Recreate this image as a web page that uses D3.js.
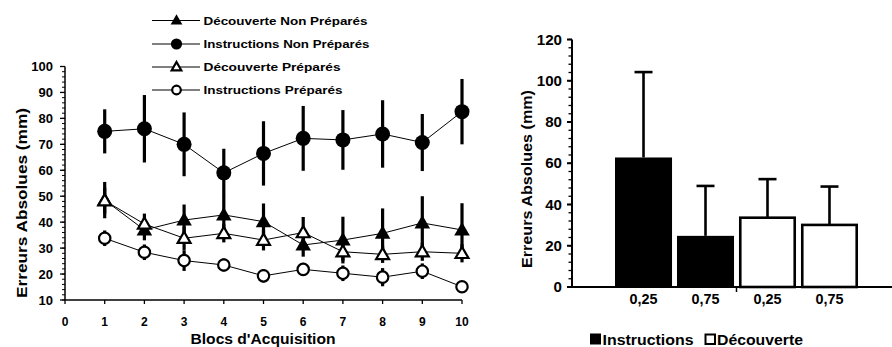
<!DOCTYPE html>
<html>
<head>
<meta charset="utf-8">
<script src="https://cdn.jsdelivr.net/npm/d3@7"></script>
<style>
  html, body { margin: 0; padding: 0; background: #fff; }
  svg { display: block; }
  text { font-family: Arial, "Liberation Sans", sans-serif; font-weight: bold; fill: #000; }
</style>
</head>
<body>
<svg id="chart" width="892" height="347"></svg>
<script>
// ---------- DATA (left chart) ----------
const blocks = [1, 2, 3, 4, 5, 6, 7, 8, 9, 10];
const xTickValues = [0, 1, 2, 3, 4, 5, 6, 7, 8, 9, 10];
const yTickValuesLeft = [10, 20, 30, 40, 50, 60, 70, 80, 90, 100];

const decouverteNonPrep    = [48.5, 37.0, 40.8, 42.8, 40.2, 31.2, 33.1, 35.7, 39.7, 37.0];
const decouverteNonPrepSD  = [7.0, 4.0, 6.0, 7.0, 7.0, 4.5, 9.0, 9.6, 10.3, 10.3];
const instructionsNonPrep  = [75.0, 76.0, 70.0, 59.0, 66.5, 72.3, 71.7, 74.0, 70.7, 82.6];
const instructionsNonPrepSD= [8.5, 13.0, 12.3, 9.3, 12.4, 12.5, 11.5, 13.0, 11.0, 12.6];
const decouvertePrep       = [48.3, 39.3, 33.8, 35.7, 33.1, 36.0, 28.6, 27.6, 28.6, 28.0];
const decouvertePrepSD     = [5.0, 4.0, 4.5, 3.5, 4.0, 6.0, 3.5, 3.3, 3.5, 3.5];
const instructionsPrep     = [33.8, 28.4, 25.2, 23.5, 19.3, 21.8, 20.3, 18.8, 21.1, 15.1];
const instructionsPrepSD   = [3.0, 3.0, 4.0, 2.5, 2.5, 2.5, 3.0, 3.5, 3.0, 2.0];

const seriesNames = ["Découverte Non Préparés", "Instructions Non Préparés", "Découverte Préparés", "Instructions Préparés"];
const seriesMarkers = ["triangle", "circle", "triangle", "circle"];
const seriesFilled = [true, true, false, false];

// ---------- DATA (right chart) ----------
const barLabels = ["0,25", "0,75", "0,25", "0,75"];
const barGroups = ["Instructions", "Instructions", "Découverte", "Découverte"];
const barMeans = [62.8, 24.8, 33.6, 30.1];
const barSD = [41.4, 24.2, 18.7, 18.6];
const yTickValuesRight = [0, 20, 40, 60, 80, 100, 120];
const groupNames = ["Instructions", "Découverte"];

const svg = d3.select("#chart");

// ================= LEFT CHART =================
const xL = d3.scaleLinear().domain([0, 10]).range([65, 462]);
const yL = d3.scaleLinear().domain([10, 100]).range([300, 66.5]);

const left = svg.append("g");

// y axis
const yAxisL = left.append("g").attr("transform", `translate(${xL(0)},0)`);
yAxisL.append("line").attr("x1", 0).attr("x2", 0).attr("y1", yL(10)).attr("y2", yL(100))
  .attr("stroke", "#000").attr("stroke-width", 1.5);
yAxisL.selectAll("line.minor").data(d3.range(10, 100.01, 2)).join("line")
  .attr("class", "minor").attr("x1", -3).attr("x2", 0)
  .attr("y1", d => yL(d)).attr("y2", d => yL(d)).attr("stroke", "#000").attr("stroke-width", 1);
yAxisL.selectAll("line.major").data(yTickValuesLeft).join("line")
  .attr("class", "major").attr("x1", -5).attr("x2", 0)
  .attr("y1", d => yL(d)).attr("y2", d => yL(d)).attr("stroke", "#000").attr("stroke-width", 1.3);
yAxisL.selectAll("text").data(yTickValuesLeft).join("text")
  .attr("x", -12).attr("y", d => yL(d)).attr("dy", "0.36em")
  .attr("text-anchor", "end").attr("font-size", 13).text(d => d);

// x axis
const xAxisL = left.append("g").attr("transform", `translate(0,${yL(10)})`);
xAxisL.append("line").attr("x1", xL(0)).attr("x2", xL(10)).attr("y1", 0).attr("y2", 0)
  .attr("stroke", "#000").attr("stroke-width", 1.5);
xAxisL.selectAll("line.tick").data(xTickValues).join("line")
  .attr("class", "tick").attr("x1", d => xL(d)).attr("x2", d => xL(d))
  .attr("y1", 0).attr("y2", 4).attr("stroke", "#000").attr("stroke-width", 1.3);
xAxisL.selectAll("text").data(xTickValues).join("text")
  .attr("x", d => xL(d)).attr("y", 26).attr("text-anchor", "middle")
  .attr("font-size", 12).text(d => d);

// axis titles
left.append("text").attr("x", xL(5) - 0.5).attr("y", 343.5).attr("text-anchor", "middle")
  .attr("font-size", 14).attr("textLength", 145).attr("lengthAdjust", "spacingAndGlyphs")
  .text("Blocs d'Acquisition");
left.append("text").attr("transform", "translate(26.5,203) rotate(-90)").attr("text-anchor", "middle")
  .attr("font-size", 14.5).attr("textLength", 190).attr("lengthAdjust", "spacingAndGlyphs")
  .text("Erreurs Absolues (mm)");

const allSeries = [
  { name: seriesNames[1], vals: instructionsNonPrep, sd: instructionsNonPrepSD, marker: "circle", filled: true },
  { name: seriesNames[0], vals: decouverteNonPrep, sd: decouverteNonPrepSD, marker: "triangle", filled: true },
  { name: seriesNames[2], vals: decouvertePrep, sd: decouvertePrepSD, marker: "triangle", filled: false },
  { name: seriesNames[3], vals: instructionsPrep, sd: instructionsPrepSD, marker: "circle", filled: false }
];

const lineGen = d3.line().x((d, i) => xL(blocks[i])).y(d => yL(d));

function drawMarker(g, type, filled, cx, cy, big) {
  if (type === "circle") {
    if (filled) {
      g.append("circle").attr("cx", cx).attr("cy", cy).attr("r", big ? 7.5 : 5.6).attr("fill", "#000");
    } else {
      g.append("circle").attr("cx", cx).attr("cy", cy).attr("r", big ? 5.7 : 4.3)
        .attr("fill", "#fff").attr("stroke", "#000").attr("stroke-width", 2.2);
    }
  } else {
    const size = filled ? (big ? 105 : 60) : (big ? 72 : 40);
    const p = g.append("path").attr("d", d3.symbol().type(d3.symbolTriangle).size(size)())
      .attr("transform", `translate(${cx},${cy + (big ? 1 : 0.5)})`);
    if (filled) p.attr("fill", "#000");
    else p.attr("fill", "#fff").attr("stroke", "#000").attr("stroke-width", 2.2);
  }
}

const plot = left.append("g");
allSeries.forEach(s => {
  plot.append("path").datum(s.vals).attr("d", lineGen)
    .attr("fill", "none").attr("stroke", "#000").attr("stroke-width", 1);
});
allSeries.forEach(s => {
  const g = plot.append("g");
  g.selectAll("line").data(s.vals).join("line")
    .attr("x1", (d, i) => xL(blocks[i])).attr("x2", (d, i) => xL(blocks[i]))
    .attr("y1", (d, i) => yL(d + s.sd[i])).attr("y2", (d, i) => yL(d - s.sd[i]))
    .attr("stroke", "#000").attr("stroke-width", 3.2);
  s.vals.forEach((v, i) => drawMarker(g, s.marker, s.filled, xL(blocks[i]), yL(v), true));
});

// legend
const legendRowsY = [20.5, 44, 67, 90];
const legL = left.append("g");
seriesNames.forEach((name, i) => {
  const y = legendRowsY[i];
  legL.append("line").attr("x1", 152).attr("x2", 200).attr("y1", y).attr("y2", y)
    .attr("stroke", "#000").attr("stroke-width", 1);
  drawMarker(legL, seriesMarkers[i], seriesFilled[i], 176.5, y, false);
  legL.append("text").attr("x", 203.5).attr("y", y).attr("dy", "0.36em")
    .attr("font-size", 11.5)
    .attr("textLength", [164, 166, 137, 139][i]).attr("lengthAdjust", "spacingAndGlyphs")
    .text(name);
});

// ================= RIGHT CHART =================
const xR = d3.scaleBand().domain(d3.range(barMeans.length)).range([615, 858]).paddingInner(0.08).paddingOuter(0);
const yR = d3.scaleLinear().domain([0, 120]).range([287, 39.5]);
const right = svg.append("g");

right.selectAll("rect.bar").data(barMeans).join("rect")
  .attr("class", "bar")
  .attr("x", (d, i) => barGroups[i] === "Instructions" ? xR(i) : xR(i) + 1.3)
  .attr("width", (d, i) => barGroups[i] === "Instructions" ? xR.bandwidth() : xR.bandwidth() - 2.6)
  .attr("y", d => yR(d))
  .attr("height", d => yR(0) - yR(d))
  .attr("fill", (d, i) => barGroups[i] === "Instructions" ? "#000" : "#fff")
  .attr("stroke", (d, i) => barGroups[i] === "Instructions" ? "none" : "#000")
  .attr("stroke-width", 2.6);

right.selectAll("line.err").data(barMeans).join("line")
  .attr("class", "err")
  .attr("x1", (d, i) => xR(i) + xR.bandwidth() / 2).attr("x2", (d, i) => xR(i) + xR.bandwidth() / 2)
  .attr("y1", d => yR(d)).attr("y2", (d, i) => yR(d + barSD[i]))
  .attr("stroke", "#000").attr("stroke-width", 2.6);
right.selectAll("line.cap").data(barMeans).join("line")
  .attr("class", "cap")
  .attr("x1", (d, i) => xR(i) + xR.bandwidth() / 2 - 9).attr("x2", (d, i) => xR(i) + xR.bandwidth() / 2 + 9)
  .attr("y1", (d, i) => yR(d + barSD[i])).attr("y2", (d, i) => yR(d + barSD[i]))
  .attr("stroke", "#000").attr("stroke-width", 2.6);

// y axis
const yAxisR = right.append("g").attr("transform", "translate(572,0)");
yAxisR.append("line").attr("x1", 0).attr("x2", 0).attr("y1", yR(0)).attr("y2", yR(120))
  .attr("stroke", "#000").attr("stroke-width", 2);
yAxisR.selectAll("line.minor").data(d3.range(0, 120.01, 4)).join("line")
  .attr("class", "minor").attr("x1", -3.5).attr("x2", 0)
  .attr("y1", d => yR(d)).attr("y2", d => yR(d)).attr("stroke", "#000").attr("stroke-width", 1.3);
yAxisR.selectAll("line.major").data(yTickValuesRight).join("line")
  .attr("class", "major").attr("x1", -5).attr("x2", 0)
  .attr("y1", d => yR(d)).attr("y2", d => yR(d)).attr("stroke", "#000").attr("stroke-width", 2);
yAxisR.selectAll("text").data(yTickValuesRight).join("text")
  .attr("x", -10).attr("y", d => yR(d)).attr("dy", "0.36em")
  .attr("text-anchor", "end").attr("font-size", 14)
  .attr("textLength", d => String(d).length * 8.4).attr("lengthAdjust", "spacingAndGlyphs")
  .text(d => d);

// x axis
right.append("line").attr("x1", 572).attr("x2", 892).attr("y1", yR(0)).attr("y2", yR(0))
  .attr("stroke", "#000").attr("stroke-width", 2);
const midTick = (xR(1) + xR.bandwidth() + xR(2)) / 2;
right.append("line").attr("x1", midTick).attr("x2", midTick).attr("y1", yR(0)).attr("y2", yR(0) + 5)
  .attr("stroke", "#000").attr("stroke-width", 1.5);
right.selectAll("text.xl").data(barLabels).join("text")
  .attr("class", "xl")
  .attr("x", (d, i) => xR(i) + xR.bandwidth() / 2).attr("y", yR(0) + 16.5)
  .attr("text-anchor", "middle").attr("font-size", 14)
  .attr("textLength", 28).attr("lengthAdjust", "spacingAndGlyphs")
  .text(d => d);

// y title
right.append("text").attr("transform", "translate(532,179) rotate(-90)").attr("text-anchor", "middle")
  .attr("font-size", 14.5).attr("textLength", 178).attr("lengthAdjust", "spacingAndGlyphs")
  .text("Erreurs Absolues (mm)");

// legend
const legR = right.append("g");
const legItems = [
  { name: groupNames[0], x: 590, filled: true, tl: 91 },
  { name: groupNames[1], x: 704.5, filled: false, tl: 86 }
];
legItems.forEach(it => {
  if (it.filled) {
    legR.append("rect").attr("x", it.x).attr("y", 333.5).attr("width", 11).attr("height", 11).attr("fill", "#000");
  } else {
    legR.append("rect").attr("x", it.x + 1).attr("y", 334.5).attr("width", 9.5).attr("height", 9.5)
      .attr("fill", "#fff").attr("stroke", "#000").attr("stroke-width", 2);
  }
  legR.append("text").attr("x", it.x + 12.5).attr("y", 344.5).attr("font-size", 15)
    .attr("textLength", it.tl).attr("lengthAdjust", "spacingAndGlyphs").text(it.name);
});
</script>
</body>
</html>
